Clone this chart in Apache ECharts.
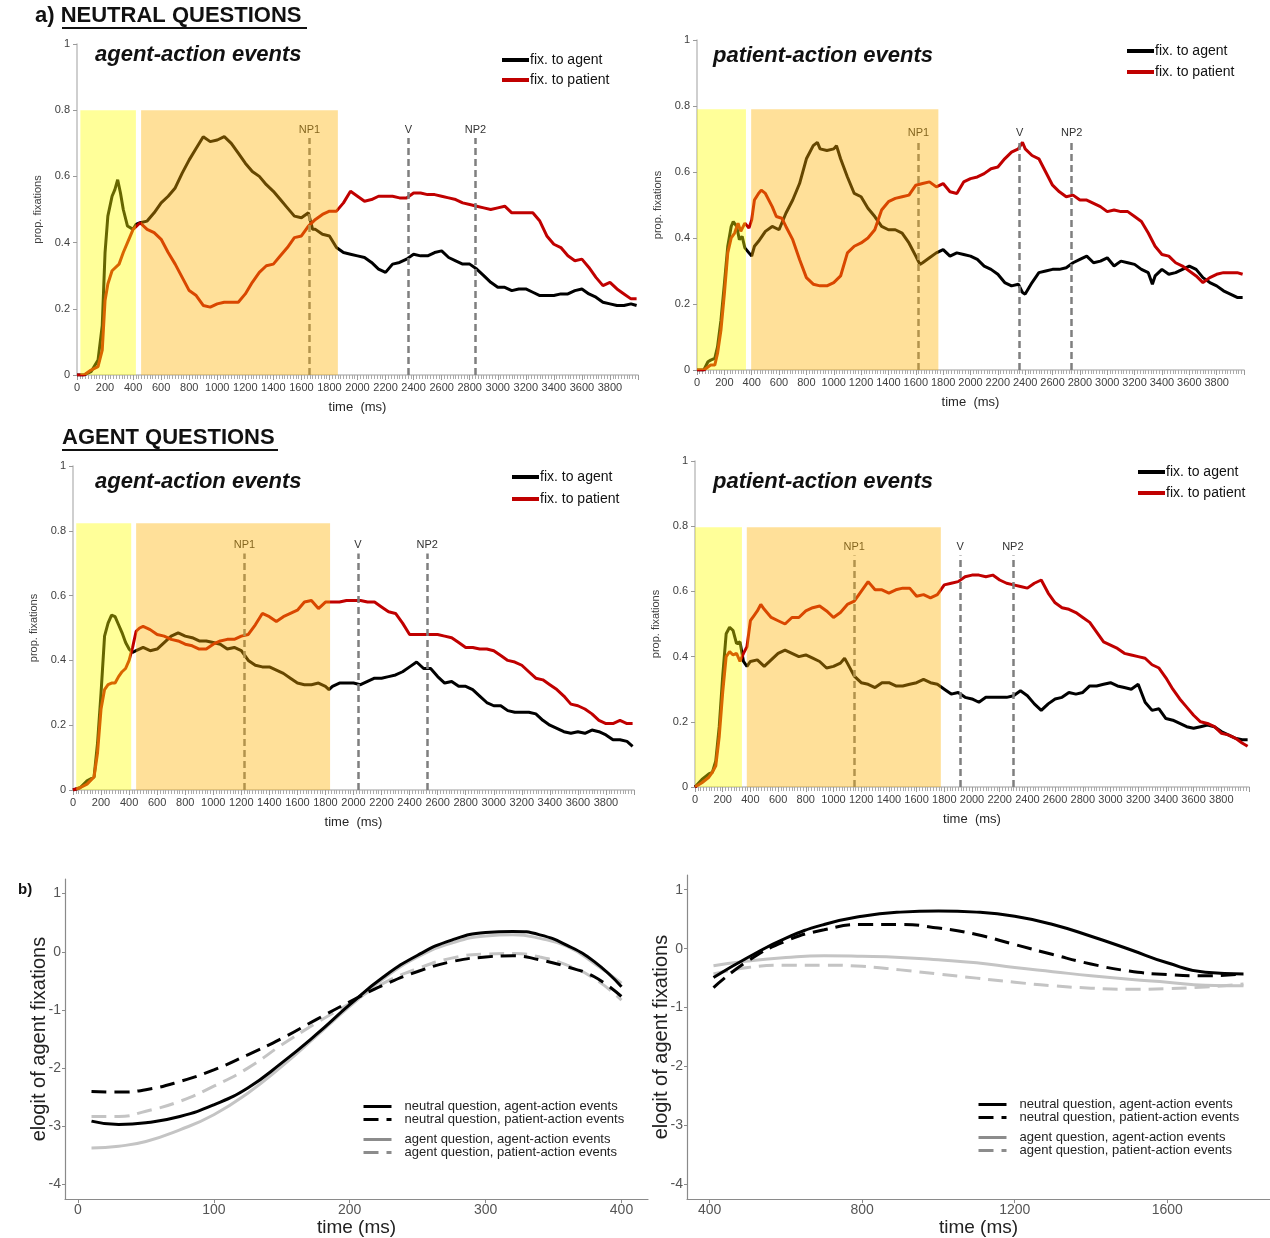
<!DOCTYPE html>
<html><head><meta charset="utf-8">
<script src="https://cdn.jsdelivr.net/npm/echarts/dist/echarts.min.js"></script>
<style>html,body{margin:0;padding:0;background:#fff}#c{width:1270px;height:1238px}</style>
</head><body><div id="c"></div>
<script>
// ---------- DATA (time ms, value) ----------
// a) Neutral questions, agent-action events
const NQ_AA_agent = [[0,0],[50,0],[100,0.01],[150,0.045],[180,0.15],[200,0.37],[220,0.48],[250,0.54],[270,0.56],[290,0.59],[310,0.55],[330,0.50],[360,0.45],[400,0.44],[420,0.455],[450,0.46],[500,0.465],[550,0.49],[600,0.52],[650,0.54],[700,0.565],[750,0.61],[800,0.65],[850,0.685],[900,0.72],[950,0.705],[1000,0.71],[1050,0.72],[1100,0.70],[1150,0.67],[1200,0.64],[1250,0.615],[1300,0.60],[1350,0.575],[1400,0.555],[1450,0.53],[1500,0.505],[1550,0.48],[1600,0.475],[1650,0.49],[1680,0.44],[1700,0.44],[1750,0.425],[1800,0.42],[1850,0.385],[1900,0.37],[1950,0.365],[2000,0.36],[2050,0.355],[2100,0.34],[2150,0.32],[2200,0.31],[2250,0.335],[2300,0.34],[2350,0.35],[2400,0.365],[2450,0.36],[2500,0.36],[2550,0.37],[2600,0.375],[2650,0.355],[2700,0.345],[2750,0.335],[2800,0.335],[2850,0.32],[2900,0.30],[2950,0.28],[3000,0.265],[3050,0.265],[3100,0.255],[3150,0.26],[3200,0.26],[3250,0.25],[3300,0.24],[3350,0.24],[3400,0.24],[3450,0.245],[3500,0.245],[3550,0.255],[3600,0.26],[3650,0.245],[3700,0.235],[3750,0.22],[3800,0.215],[3850,0.21],[3900,0.21],[3950,0.215],[3990,0.21]];
const NQ_AA_patient = [[0,0],[50,0],[100,0.015],[150,0.025],[180,0.075],[200,0.225],[220,0.275],[250,0.315],[300,0.335],[330,0.37],[360,0.40],[400,0.44],[450,0.46],[500,0.44],[550,0.43],[600,0.41],[650,0.37],[700,0.335],[750,0.295],[800,0.255],[850,0.24],[900,0.21],[950,0.205],[1000,0.215],[1050,0.22],[1100,0.22],[1150,0.22],[1200,0.245],[1250,0.28],[1300,0.31],[1350,0.33],[1400,0.335],[1450,0.36],[1500,0.385],[1550,0.415],[1600,0.42],[1650,0.45],[1700,0.47],[1750,0.485],[1800,0.495],[1850,0.495],[1900,0.52],[1950,0.555],[2000,0.54],[2050,0.525],[2100,0.53],[2150,0.54],[2200,0.54],[2250,0.54],[2300,0.535],[2350,0.535],[2400,0.55],[2450,0.55],[2500,0.545],[2550,0.545],[2600,0.54],[2650,0.535],[2700,0.53],[2750,0.52],[2800,0.515],[2850,0.51],[2900,0.505],[2950,0.50],[3000,0.505],[3050,0.51],[3100,0.49],[3150,0.49],[3200,0.49],[3250,0.49],[3300,0.465],[3350,0.42],[3400,0.395],[3450,0.385],[3500,0.36],[3550,0.345],[3600,0.35],[3650,0.325],[3700,0.295],[3750,0.27],[3800,0.28],[3850,0.26],[3900,0.245],[3950,0.23],[3990,0.23]];
const NQ_AA_shade = [[24,420,0.80],[457,1860,0.80]];
const NQ_AA_marks = [['NP1',1658],['V',2363],['NP2',2841]];

// a) Neutral questions, patient-action events
const NQ_PA_agent = [[0,0],[50,0],[80,0.025],[100,0.03],[130,0.035],[150,0.07],[175,0.15],[200,0.26],[225,0.375],[250,0.435],[265,0.45],[290,0.435],[310,0.395],[330,0.405],[350,0.37],[380,0.355],[400,0.345],[420,0.375],[450,0.39],[500,0.42],[550,0.435],[600,0.425],[650,0.475],[700,0.515],[750,0.565],[800,0.64],[850,0.68],[880,0.69],[900,0.67],[950,0.665],[1000,0.67],[1020,0.68],[1050,0.64],[1100,0.585],[1150,0.535],[1200,0.525],[1250,0.49],[1300,0.465],[1350,0.435],[1400,0.425],[1450,0.425],[1500,0.415],[1550,0.385],[1600,0.345],[1630,0.32],[1650,0.325],[1700,0.34],[1750,0.355],[1800,0.365],[1850,0.345],[1900,0.355],[1950,0.35],[2000,0.345],[2050,0.335],[2100,0.315],[2150,0.305],[2200,0.29],[2250,0.265],[2300,0.255],[2350,0.26],[2380,0.235],[2400,0.23],[2450,0.265],[2500,0.295],[2550,0.30],[2600,0.305],[2650,0.305],[2700,0.31],[2750,0.325],[2800,0.335],[2850,0.345],[2900,0.325],[2950,0.33],[3000,0.34],[3050,0.315],[3100,0.33],[3150,0.325],[3200,0.32],[3250,0.305],[3300,0.295],[3330,0.26],[3350,0.285],[3400,0.305],[3450,0.29],[3500,0.295],[3550,0.305],[3600,0.315],[3650,0.305],[3700,0.28],[3750,0.265],[3800,0.255],[3850,0.24],[3900,0.23],[3950,0.22],[3990,0.22]];
const NQ_PA_patient = [[0,0],[50,0],[100,0.015],[130,0.015],[150,0.05],[175,0.12],[200,0.23],[225,0.355],[250,0.40],[275,0.415],[300,0.445],[320,0.42],[350,0.445],[380,0.43],[400,0.455],[420,0.515],[450,0.535],[470,0.545],[500,0.535],[550,0.495],[580,0.465],[620,0.46],[650,0.435],[700,0.395],[750,0.335],[800,0.28],[850,0.26],[900,0.255],[950,0.255],[1000,0.265],[1050,0.285],[1100,0.355],[1150,0.375],[1200,0.385],[1250,0.40],[1300,0.425],[1350,0.485],[1400,0.51],[1450,0.52],[1500,0.525],[1550,0.53],[1600,0.56],[1650,0.565],[1700,0.57],[1750,0.555],[1800,0.565],[1850,0.54],[1900,0.535],[1950,0.57],[2000,0.58],[2050,0.585],[2100,0.595],[2150,0.61],[2200,0.615],[2250,0.64],[2300,0.66],[2350,0.67],[2380,0.69],[2400,0.67],[2450,0.65],[2500,0.64],[2550,0.60],[2600,0.56],[2650,0.54],[2700,0.525],[2750,0.53],[2800,0.515],[2850,0.515],[2900,0.505],[2950,0.495],[3000,0.48],[3050,0.485],[3100,0.48],[3150,0.48],[3200,0.465],[3250,0.45],[3300,0.415],[3350,0.375],[3400,0.35],[3450,0.345],[3500,0.325],[3550,0.315],[3600,0.30],[3650,0.285],[3700,0.265],[3750,0.28],[3800,0.29],[3850,0.295],[3900,0.295],[3950,0.295],[3990,0.29]];
const NQ_PA_shade = [[0,358,0.79],[396,1765,0.79]];
const NQ_PA_marks = [['NP1',1619],['V',2359],['NP2',2740]];

// Agent questions, agent-action events
const AQ_AA_agent = [[0,0],[50,0.007],[100,0.028],[150,0.04],[175,0.145],[200,0.30],[225,0.475],[250,0.515],[275,0.54],[300,0.535],[325,0.51],[350,0.485],[375,0.455],[400,0.435],[425,0.425],[450,0.43],[500,0.44],[550,0.43],[600,0.435],[650,0.455],[700,0.475],[750,0.485],[800,0.475],[850,0.47],[900,0.46],[950,0.46],[1000,0.455],[1050,0.45],[1100,0.435],[1150,0.44],[1200,0.43],[1250,0.40],[1300,0.385],[1350,0.38],[1400,0.38],[1450,0.37],[1500,0.36],[1550,0.345],[1600,0.33],[1650,0.325],[1700,0.325],[1750,0.33],[1800,0.32],[1825,0.31],[1850,0.32],[1900,0.33],[1950,0.33],[2000,0.33],[2050,0.325],[2100,0.335],[2150,0.345],[2200,0.345],[2250,0.35],[2300,0.355],[2350,0.365],[2400,0.38],[2450,0.395],[2500,0.375],[2550,0.375],[2600,0.35],[2650,0.33],[2700,0.335],[2750,0.32],[2800,0.32],[2850,0.31],[2900,0.29],[2950,0.27],[3000,0.26],[3050,0.26],[3100,0.245],[3150,0.24],[3200,0.24],[3250,0.24],[3300,0.235],[3350,0.215],[3400,0.20],[3450,0.19],[3500,0.18],[3550,0.175],[3600,0.18],[3650,0.175],[3700,0.185],[3750,0.18],[3800,0.17],[3850,0.155],[3900,0.155],[3950,0.15],[3990,0.135]];
const AQ_AA_patient = [[0,0],[50,0.007],[100,0.018],[150,0.04],[175,0.115],[200,0.25],[225,0.31],[250,0.325],[275,0.33],[300,0.33],[325,0.35],[350,0.365],[375,0.375],[400,0.40],[425,0.44],[450,0.49],[475,0.50],[500,0.505],[550,0.495],[600,0.48],[650,0.475],[700,0.465],[750,0.46],[800,0.45],[850,0.445],[900,0.435],[950,0.435],[1000,0.45],[1050,0.46],[1100,0.465],[1150,0.465],[1200,0.475],[1250,0.48],[1300,0.51],[1350,0.545],[1400,0.535],[1450,0.52],[1500,0.535],[1550,0.545],[1600,0.555],[1650,0.58],[1700,0.585],[1750,0.56],[1800,0.58],[1850,0.58],[1900,0.58],[1950,0.585],[2000,0.585],[2050,0.585],[2100,0.58],[2150,0.58],[2200,0.565],[2250,0.55],[2300,0.545],[2350,0.515],[2400,0.48],[2450,0.48],[2500,0.48],[2550,0.48],[2600,0.48],[2650,0.475],[2700,0.47],[2750,0.455],[2800,0.44],[2850,0.44],[2900,0.435],[2950,0.435],[3000,0.43],[3050,0.415],[3100,0.40],[3150,0.395],[3200,0.385],[3250,0.365],[3300,0.345],[3350,0.34],[3400,0.325],[3450,0.31],[3500,0.29],[3550,0.265],[3600,0.26],[3650,0.25],[3700,0.235],[3750,0.215],[3800,0.205],[3850,0.205],[3900,0.215],[3950,0.205],[3990,0.205]];
const AQ_AA_shade = [[23,415,0.823],[450,1833,0.823]];
const AQ_AA_marks = [['NP1',1222],['V',2032],['NP2',2526]];

// Agent questions, patient-action events
const AQ_PA_agent = [[0,0],[50,0.023],[100,0.04],[125,0.045],[150,0.08],[175,0.185],[200,0.34],[225,0.47],[250,0.49],[275,0.48],[300,0.44],[325,0.445],[350,0.385],[375,0.37],[400,0.385],[450,0.39],[500,0.37],[550,0.39],[600,0.41],[650,0.42],[700,0.41],[750,0.40],[800,0.405],[850,0.395],[900,0.385],[950,0.365],[1000,0.37],[1050,0.38],[1080,0.395],[1100,0.38],[1150,0.34],[1200,0.32],[1250,0.315],[1300,0.305],[1350,0.32],[1400,0.32],[1450,0.31],[1500,0.31],[1550,0.315],[1600,0.32],[1650,0.33],[1700,0.32],[1750,0.315],[1800,0.30],[1850,0.285],[1900,0.29],[1950,0.275],[2000,0.27],[2050,0.26],[2100,0.275],[2150,0.275],[2200,0.275],[2250,0.275],[2300,0.28],[2350,0.295],[2400,0.28],[2450,0.255],[2500,0.235],[2550,0.255],[2600,0.27],[2650,0.275],[2700,0.29],[2750,0.285],[2800,0.29],[2850,0.31],[2900,0.31],[2950,0.315],[3000,0.32],[3050,0.31],[3100,0.305],[3150,0.30],[3200,0.315],[3250,0.26],[3300,0.235],[3350,0.24],[3400,0.21],[3450,0.205],[3500,0.195],[3550,0.185],[3600,0.18],[3650,0.185],[3700,0.19],[3750,0.185],[3800,0.17],[3850,0.16],[3900,0.15],[3950,0.145],[3990,0.145]];
const AQ_PA_patient = [[0,0],[50,0.013],[100,0.03],[125,0.045],[150,0.065],[175,0.155],[200,0.29],[225,0.40],[250,0.415],[275,0.405],[300,0.41],[325,0.385],[350,0.41],[375,0.43],[400,0.51],[425,0.525],[450,0.54],[475,0.56],[500,0.545],[550,0.52],[600,0.51],[650,0.50],[700,0.52],[750,0.52],[800,0.54],[850,0.55],[900,0.555],[950,0.54],[1000,0.52],[1050,0.535],[1100,0.56],[1150,0.57],[1200,0.60],[1250,0.63],[1300,0.605],[1350,0.605],[1400,0.595],[1450,0.605],[1500,0.61],[1550,0.61],[1600,0.585],[1650,0.59],[1700,0.58],[1750,0.59],[1800,0.62],[1850,0.625],[1900,0.63],[1950,0.645],[2000,0.65],[2050,0.65],[2100,0.645],[2150,0.65],[2200,0.635],[2250,0.625],[2300,0.62],[2350,0.615],[2400,0.61],[2450,0.625],[2500,0.635],[2550,0.595],[2600,0.565],[2650,0.55],[2700,0.545],[2750,0.535],[2800,0.52],[2850,0.505],[2900,0.475],[2950,0.445],[3000,0.435],[3050,0.425],[3100,0.41],[3150,0.405],[3200,0.40],[3250,0.395],[3300,0.375],[3350,0.365],[3400,0.335],[3450,0.30],[3500,0.27],[3550,0.245],[3600,0.22],[3650,0.20],[3700,0.195],[3750,0.185],[3800,0.165],[3850,0.16],[3900,0.15],[3950,0.135],[3990,0.125]];
const AQ_PA_shade = [[0,339,0.797],[374,1775,0.797]];
const AQ_PA_marks = [['NP1',1149],['V',1915],['NP2',2295]];

// b) elogit model curves, 0-400 ms window
const B1_neutralAgentEv = [[10,-2.91],[30,-2.97],[50,-2.94],[75,-2.83],[100,-2.63],[125,-2.34],[150,-1.91],[175,-1.43],[200,-0.91],[225,-0.43],[250,-0.06],[275,0.2],[300,0.33],[320,0.35],[340,0.29],[360,0.11],[380,-0.17],[400,-0.6]];
const B1_neutralPatientEv = [[10,-2.4],[30,-2.41],[50,-2.37],[75,-2.23],[100,-2.03],[125,-1.77],[150,-1.49],[175,-1.17],[200,-0.86],[225,-0.57],[250,-0.34],[275,-0.17],[300,-0.09],[320,-0.07],[340,-0.14],[360,-0.26],[380,-0.43],[400,-0.77]];
const B1_agentAgentEv = [[10,-3.37],[30,-3.34],[50,-3.26],[75,-3.06],[100,-2.8],[125,-2.43],[150,-1.97],[175,-1.46],[200,-0.94],[225,-0.46],[250,-0.09],[275,0.15],[300,0.27],[320,0.29],[340,0.23],[360,0.09],[380,-0.2],[400,-0.54]];
const B1_agentPatientEv = [[10,-2.83],[30,-2.83],[50,-2.74],[75,-2.57],[100,-2.31],[125,-2.0],[150,-1.6],[175,-1.23],[200,-0.89],[225,-0.54],[250,-0.29],[275,-0.11],[300,-0.04],[320,-0.03],[340,-0.09],[360,-0.23],[380,-0.46],[400,-0.83]];
// b) 400-1800 ms window
const B2_neutralAgentEv = [[410,-0.49],[500,-0.15],[600,0.18],[700,0.41],[800,0.55],[900,0.62],[1000,0.64],[1100,0.62],[1200,0.55],[1300,0.41],[1400,0.21],[1500,-0.01],[1600,-0.24],[1700,-0.4],[1800,-0.43]];
const B2_neutralPatientEv = [[410,-0.66],[500,-0.21],[600,0.13],[700,0.32],[800,0.41],[900,0.41],[1000,0.35],[1100,0.24],[1200,0.07],[1300,-0.1],[1400,-0.26],[1500,-0.38],[1600,-0.44],[1700,-0.46],[1800,-0.43]];
const B2_agentAgentEv = [[410,-0.29],[500,-0.21],[600,-0.15],[700,-0.12],[800,-0.13],[900,-0.15],[1000,-0.19],[1100,-0.24],[1200,-0.32],[1300,-0.39],[1400,-0.46],[1500,-0.52],[1600,-0.57],[1700,-0.62],[1800,-0.63]];
const B2_agentPatientEv = [[410,-0.43],[500,-0.32],[600,-0.28],[700,-0.28],[800,-0.3],[900,-0.36],[1000,-0.43],[1100,-0.5],[1200,-0.57],[1300,-0.63],[1400,-0.67],[1500,-0.69],[1600,-0.68],[1700,-0.65],[1800,-0.6]];

const topXTicks = [0,200,400,600,800,1000,1200,1400,1600,1800,2000,2200,2400,2600,2800,3000,3200,3400,3600,3800];
const b1XTicks = [0,100,200,300,400];
const b2XTicks = [400,800,1200,1600];
const bYTicks = [-4,-3,-2,-1,0,1];

const AGENT = 'fix. to agent', PATIENT = 'fix. to patient';
const L1 = 'neutral question, agent-action events', L2 = 'neutral question, patient-action events';
const L3 = 'agent question, agent-action events', L4 = 'agent question, patient-action events';

// ---------- LAYOUT ----------
const FONT = "'Liberation Sans', Arial, sans-serif";
const NARROW = "'Liberation Sans Narrow', 'Arial Narrow', 'Liberation Sans', sans-serif";

const topPanels = [
  {left:77, top:44, width:561, height:331, title:'agent-action events', tl:95, tt:44, lgl:502, lgt:53, gap:6, agent:NQ_AA_agent, patient:NQ_AA_patient, shade:NQ_AA_shade, marks:NQ_AA_marks, markTop:0.716},
  {left:697, top:40, width:547, height:330, title:'patient-action events', tl:713, tt:45, lgl:1127, lgt:44, gap:7, agent:NQ_PA_agent, patient:NQ_PA_patient, shade:NQ_PA_shade, marks:NQ_PA_marks, markTop:0.693},
  {left:73, top:466, width:561, height:324, title:'agent-action events', tl:95, tt:471, lgl:512, lgt:470, gap:8, agent:AQ_AA_agent, patient:AQ_AA_patient, shade:AQ_AA_shade, marks:AQ_AA_marks, markTop:0.73},
  {left:695, top:461, width:554, height:326, title:'patient-action events', tl:713, tt:471, lgl:1138, lgt:465, gap:7, agent:AQ_PA_agent, patient:AQ_PA_patient, shade:AQ_PA_shade, marks:AQ_PA_marks, markTop:0.71}
];
const bottomPanels = [
  {left:65, top:879, width:583, height:322, xmin:-9.5, xmax:419.5, ticks:b1XTicks, lgl:362, lgt1:1100, lgt2:1133,
   s:[B1_neutralAgentEv, B1_neutralPatientEv, B1_agentAgentEv, B1_agentPatientEv]},
  {left:687, top:875, width:583, height:326, xmin:340.5, xmax:1869.5, ticks:b2XTicks, lgl:977, lgt1:1098, lgt2:1131,
   s:[B2_neutralAgentEv, B2_neutralPatientEv, B2_agentAgentEv, B2_agentPatientEv]}
];

const grid = [], xAxis = [], yAxis = [], series = [], legend = [], title = [];
const axisGray = '#bfbfbf', labGray = '#404040';

topPanels.forEach((p, i) => {
  grid.push({left:p.left, top:p.top, width:p.width, height:p.height});
  xAxis.push({type:'value', gridIndex:i, min:0, max:4000, interval:200,
    axisLine:{onZero:false, lineStyle:{color:axisGray, width:1.5}},
    axisTick:{show:true, length:5, lineStyle:{color:'#999'}},
    minorTick:{show:true, splitNumber:10, length:4, lineStyle:{color:'#aaa'}},
    axisLabel:{fontSize:11, color:labGray, fontFamily:NARROW, margin:7, showMaxLabel:false,
      formatter:v => topXTicks.indexOf(v) >= 0 ? String(v) : ''},
    splitLine:{show:false},
    name:'time  (ms)', nameLocation:'middle', nameGap:26,
    nameTextStyle:{fontSize:13, color:'#262626', fontFamily:NARROW}});
  yAxis.push({type:'value', gridIndex:i, min:0, max:1, interval:0.2,
    axisLine:{show:true, onZero:false, lineStyle:{color:axisGray, width:1.5}},
    axisTick:{show:true, length:4, lineStyle:{color:'#999'}},
    axisLabel:{fontSize:11, color:labGray, fontFamily:NARROW, margin:7},
    splitLine:{show:false},
    name:'prop. fixations', nameLocation:'middle', nameGap:34,
    nameTextStyle:{fontSize:11, color:labGray, fontFamily:NARROW}});
  series.push({type:'line', name:AGENT, xAxisIndex:i, yAxisIndex:i, data:p.agent, symbol:'none',
    lineStyle:{color:'#000', width:3}, itemStyle:{color:'#000'}, z:2,
    markLine:{silent:true, symbol:['none','none'],
      lineStyle:{color:'#7f7f7f', width:2.5, type:[7,4]},
      label:{show:true, position:'end', formatter:'{b}', fontSize:11, color:'#333', fontFamily:FONT, distance:3},
      data:p.marks.map(m => [{name:m[0], coord:[m[1],0]}, {name:m[0], coord:[m[1],p.markTop]}])}});
  series.push({type:'line', name:PATIENT, xAxisIndex:i, yAxisIndex:i, data:p.patient, symbol:'none',
    lineStyle:{color:'#c00000', width:3}, itemStyle:{color:'#c00000'}, z:3});
  series.push({type:'custom', xAxisIndex:i, yAxisIndex:i, silent:true, z:10,
    data:p.shade.map((s,k) => [s[0], s[1], s[2], k]),
    encode:{x:[0,1], y:2},
    renderItem:(params, api) => {
      const a = api.coord([api.value(0), 0]);
      const b = api.coord([api.value(1), api.value(2)]);
      return {type:'rect', shape:{x:a[0], y:b[1], width:b[0]-a[0], height:a[1]-b[1]},
        style:{fill: api.value(3) === 0 ? 'rgba(255,255,0,0.4)' : 'rgba(255,178,0,0.4)'}};
    }});
  legend.push({orient:'vertical', left:p.lgl, top:p.lgt, itemWidth:27, itemHeight:4, itemGap:p.gap, icon:'rect',
    selectedMode:false, data:[AGENT, PATIENT], padding:0,
    textStyle:{fontSize:14, color:'#111', fontFamily:FONT, padding:[0,0,0,-4]}});
  title.push({text:p.title, left:p.tl, top:p.tt, padding:0,
    textStyle:{fontSize:22, fontWeight:'bold', fontStyle:'italic', color:'#111', fontFamily:FONT}});
});

const bNames = [L1, L2, L3, L4];
const bColors = ['#000', '#000', '#c4c4c4', '#c4c4c4'];
const bDash = ['solid', [15,8], 'solid', [15,8]];
bottomPanels.forEach((p, j) => {
  const i = 4 + j;
  grid.push({left:p.left, top:p.top, width:p.width, height:p.height});
  xAxis.push({type:'value', gridIndex:i, min:p.xmin, max:p.xmax,
    axisLine:{onZero:false, lineStyle:{color:'#8a8a8a', width:1.2}},
    axisTick:{show:true, customValues:p.ticks, length:4, lineStyle:{color:'#8a8a8a'}},
    axisLabel:{customValues:p.ticks, fontSize:14, color:'#555', fontFamily:NARROW, margin:4, formatter:v => String(v)},
    splitLine:{show:false},
    name:'time (ms)', nameLocation:'middle', nameGap:15,
    nameTextStyle:{fontSize:19, color:'#222', fontFamily:NARROW, verticalAlign:'top'}});
  yAxis.push({type:'value', gridIndex:i, min:-4.25, max:1.25,
    axisLine:{show:true, onZero:false, lineStyle:{color:'#8a8a8a', width:1.2}},
    axisTick:{show:true, customValues:bYTicks, length:3, lineStyle:{color:'#8a8a8a'}},
    axisLabel:{customValues:bYTicks, fontSize:14, color:'#555', fontFamily:NARROW, margin:4, formatter:v => String(v)},
    splitLine:{show:false},
    name:'elogit of agent fixations', nameLocation:'middle', nameGap:16, nameMoveOverlap:false,
    nameTextStyle:{fontSize:20, color:'#222', fontFamily:FONT}});
  p.s.forEach((d, k) => {
    series.push({type:'line', name:bNames[k], xAxisIndex:i, yAxisIndex:i, data:d, smooth:true, symbol:'none',
      lineStyle:{color:bColors[k], width:3, type:bDash[k]}, itemStyle:{color:bColors[k]}, z:k < 2 ? 4 : 3});
  });
  const lgCommon = {orient:'vertical', left:p.lgl, itemWidth:28, itemHeight:14, itemGap:0, selectedMode:false, padding:0,
    itemStyle:{opacity:0}, textStyle:{fontSize:13, color:'#222', fontFamily:NARROW, padding:[0,0,0,8]}};
  legend.push(Object.assign({}, lgCommon, {top:p.lgt1, data:[{name:L1, lineStyle:{color:'#000', width:3}}, {name:L2, lineStyle:{color:'#000', width:3}}]}));
  legend.push(Object.assign({}, lgCommon, {top:p.lgt2, data:[{name:L3, lineStyle:{color:'#8c8c8c', width:3}}, {name:L4, lineStyle:{color:'#8c8c8c', width:3}}]}));
});

title.push({text:'a) NEUTRAL QUESTIONS', left:35, top:5, padding:0, textStyle:{fontSize:22, fontWeight:'bold', color:'#111', fontFamily:FONT}});
title.push({text:'AGENT QUESTIONS', left:62, top:427, padding:0, textStyle:{fontSize:22, fontWeight:'bold', color:'#111', fontFamily:FONT}});
title.push({text:'b)', left:18, top:882, padding:0, textStyle:{fontSize:15, fontWeight:'bold', color:'#111', fontFamily:FONT}});

const chart = echarts.init(document.getElementById('c'), null, {renderer:'canvas'});
chart.setOption({
  animation:false, backgroundColor:'#fff',
  title, grid, xAxis, yAxis, series, legend,
  graphic:[
    {type:'line', shape:{x1:62, y1:28, x2:307, y2:28}, style:{stroke:'#111', lineWidth:2}},
    {type:'line', shape:{x1:62, y1:450, x2:278, y2:450}, style:{stroke:'#111', lineWidth:2}}
  ]
});
</script></body></html>
